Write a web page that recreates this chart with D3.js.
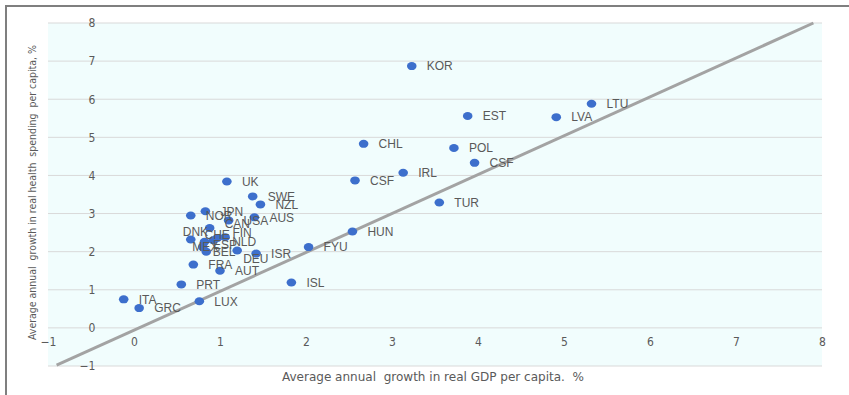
<!DOCTYPE html>
<html>
<head>
<meta charset="utf-8">
<script src="https://cdn.jsdelivr.net/npm/d3@7"></script>
<style>
  html, body { margin: 0; padding: 0; background: #ffffff; }
  svg { display: block; }
</style>
</head>
<body>
<svg id="chart" width="849" height="395"></svg>
<script>
// Country codes and average annual growth rates (%)
const codes = ["KOR", "LTU", "EST", "LVA", "CHL", "POL", "CSF", "IRL", "CSF", "TUR",
               "HUN", "FYU", "ISL", "UK", "SWE", "NZL", "NOR", "JPN", "USA", "AUS",
               "CAN", "DNK", "CHE", "FIN", "ESP", "NLD", "MEX", "BEL", "DEU", "ISR",
               "FRA", "AUT", "PRT", "LUX", "ITA", "GRC"];
// Real GDP per capita growth
const gdpGrowth = [3.23, 5.32, 3.88, 4.91, 2.67, 3.72, 3.96, 3.13, 2.57, 3.55,
                   2.54, 2.03, 1.83, 1.08, 1.38, 1.47, 0.66, 0.83, 1.10, 1.40,
                   0.88, 0.66, 0.82, 0.97, 0.92, 1.06, 0.84, 0.80, 1.20, 1.42,
                   0.69, 1.00, 0.55, 0.76, -0.12, 0.06];
// Real health spending per capita growth
const healthGrowth = [6.87, 5.88, 5.56, 5.53, 4.83, 4.72, 4.33, 4.07, 3.87, 3.29,
                      2.53, 2.12, 1.19, 3.84, 3.45, 3.24, 2.95, 3.06, 2.82, 2.90,
                      2.62, 2.32, 2.26, 2.36, 2.30, 2.38, 2.00, 2.12, 2.03, 1.95,
                      1.66, 1.50, 1.14, 0.70, 0.75, 0.52];
// Fitted reference line (end points)
const refLine = [[-0.9, -0.98], [7.9, 8.0]];
const xTicks = [-1, 0, 1, 2, 3, 4, 5, 6, 7, 8];
const yTicks = [-1, 0, 1, 2, 3, 4, 5, 6, 7, 8];
const xTitle = "Average annual  growth in real GDP per capita.  %";
const yTitle = "Average annual  growth in real health  spending  per capita, %";

// Label nudges (px) where names would otherwise collide; default is right of the dot
const labelNudge = {
  "DNK": [-8, -8], "CHE": [0, -7], "FIN": [15, -5], "ESP": [0, 4], "NLD": [7, 4],
  "MEX": [-14, -5], "BEL": [10, 5], "DEU": [6, 8], "CAN": [15, -4]
};

const W = 849, H = 395;
const margin = { top: 23, right: 27, bottom: 29, left: 48 };
const svg = d3.select("#chart");

// outer frame (left and top edges)
svg.append("path")
  .attr("d", `M6,${H} L6,6 L${W},6`)
  .attr("fill", "none").attr("stroke", "#7f7f7f").attr("stroke-width", 2);

const x = d3.scaleLinear().domain([-1, 8]).range([margin.left, W - margin.right]);
const y = d3.scaleLinear().domain([-1, 8]).range([H - margin.bottom, margin.top]);

// plot background
svg.append("rect")
  .attr("x", x(-1)).attr("y", y(8))
  .attr("width", x(8) - x(-1)).attr("height", y(-1) - y(8))
  .attr("fill", "#f1fdfd");

// horizontal gridlines
svg.append("g").selectAll("line").data(yTicks).join("line")
  .attr("x1", x(-1)).attr("x2", x(8))
  .attr("y1", d => y(d)).attr("y2", d => y(d))
  .attr("stroke", "#d9d9d9").attr("stroke-width", 1);

const tickFont = "'Liberation Sans Narrow', 'Arial Narrow', 'DejaVu Sans Condensed', sans-serif";

// y axis labels sit just left of x = 0
const yAxis = svg.append("g")
  .attr("transform", `translate(${x(-0.45)},0)`)
  .call(d3.axisLeft(y).tickValues(yTicks).tickSize(0).tickPadding(0).tickFormat(d3.format("d")));
yAxis.select(".domain").remove();
yAxis.selectAll("text").attr("font-family", tickFont).attr("font-size", 12).attr("fill", "#5a5a5a");

// x axis labels below the y = 0 line
const xAxis = svg.append("g")
  .attr("transform", `translate(0,${y(0)})`)
  .call(d3.axisBottom(x).tickValues(xTicks).tickSize(0).tickPadding(10).tickFormat(d3.format("d")));
xAxis.select(".domain").remove();
xAxis.selectAll("text").attr("font-family", tickFont).attr("font-size", 12).attr("fill", "#5a5a5a");

// reference line
svg.append("path")
  .datum(refLine)
  .attr("d", d3.line().x(d => x(d[0])).y(d => y(d[1])))
  .attr("fill", "none").attr("stroke", "#a3a3a3").attr("stroke-width", 3);

// points
const pts = codes.map((c, i) => ({ code: c, gx: gdpGrowth[i], hy: healthGrowth[i] }));
svg.append("g").selectAll("ellipse").data(pts).join("ellipse")
  .attr("cx", d => x(d.gx)).attr("cy", d => y(d.hy))
  .attr("rx", 4.8).attr("ry", 4)
  .attr("fill", "#3d6fcc");

// point labels
svg.append("g").selectAll("text").data(pts).join("text")
  .attr("x", d => x(d.gx) + (labelNudge[d.code] ? labelNudge[d.code][0] : 15))
  .attr("y", d => y(d.hy) + (labelNudge[d.code] ? labelNudge[d.code][1] : 0))
  .attr("dy", "0.36em")
  .attr("font-family", "'Liberation Sans', Arial, sans-serif")
  .attr("font-size", 12)
  .attr("fill", "#595959")
  .text(d => d.code);

// axis titles
svg.append("text")
  .attr("x", (x(-1) + x(8)) / 2 - 2).attr("y", H - 14)
  .attr("text-anchor", "middle")
  .attr("textLength", 302).attr("lengthAdjust", "spacingAndGlyphs")
  .attr("font-family", tickFont).attr("font-size", 13).attr("fill", "#5a5a5a")
  .style("white-space", "pre")
  .text(xTitle);

svg.append("text")
  .attr("transform", `translate(36,${(y(-1) + y(8)) / 2 - 2}) rotate(-90)`)
  .attr("text-anchor", "middle")
  .attr("textLength", 295).attr("lengthAdjust", "spacingAndGlyphs")
  .attr("font-family", tickFont).attr("font-size", 11).attr("fill", "#5a5a5a")
  .style("white-space", "pre")
  .text(yTitle);
</script>
</body>
</html>
